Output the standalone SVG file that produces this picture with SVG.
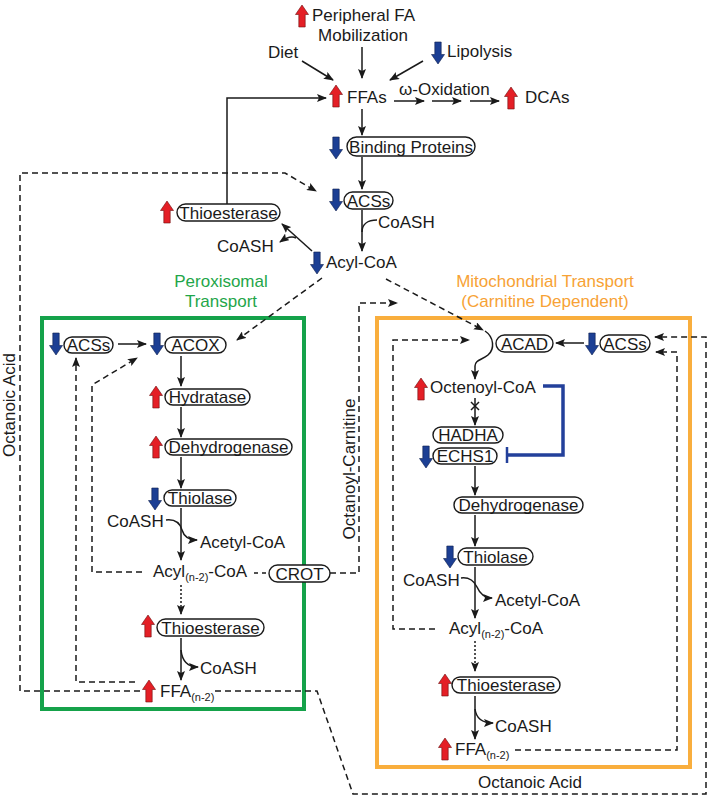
<svg xmlns="http://www.w3.org/2000/svg" xmlns:xlink="http://www.w3.org/1999/xlink" width="708" height="797" viewBox="0 0 708 797">
<style>
.t{font-family:"Liberation Sans",Arial,sans-serif;font-size:17px;fill:#1a1a1a}
.m{text-anchor:middle}
.b{fill:#fff;stroke:#1a1a1a;stroke-width:1.4}
.s{fill:none;stroke:#1a1a1a;stroke-width:1.5}
.d{fill:none;stroke:#1a1a1a;stroke-width:1.5;stroke-dasharray:6,4}
.o{fill:none;stroke:#1a1a1a;stroke-width:1.5;stroke-dasharray:2,2}
.sub{font-size:11px}
</style>
<defs>
<marker id="ah" viewBox="0 0 10 8" refX="9" refY="4" markerWidth="10" markerHeight="8" orient="auto" markerUnits="userSpaceOnUse"><path d="M0,0 L10,4 L0,8 L2,4 Z" fill="#1a1a1a"/></marker>
<path id="up" d="M0,0 L6.5,9.5 L3.2,9.5 L3.2,22 L-3.2,22 L-3.2,9.5 L-6.5,9.5 Z" fill="#E41F26" stroke="#6b0d0d" stroke-width="0.6"/>
<path id="dn" d="M-3.2,0 L3.2,0 L3.2,12.5 L6.5,12.5 L0,22 L-6.5,12.5 L-3.2,12.5 Z" fill="#1C3F94" stroke="#0d1f4d" stroke-width="0.6"/>
</defs>

<!-- compartments -->
<g id="peroxisome">
<rect x="42" y="318" width="262" height="391" fill="none" stroke="#15A24A" stroke-width="4"/>
<text class="t m" x="221" y="287" style="fill:#1FA64A">Peroxisomal</text>
<text class="t m" x="221" y="307" style="fill:#1FA64A">Transport</text>
</g>
<g id="mitochondrion">
<rect x="377" y="318" width="313" height="449" fill="none" stroke="#F9AE3D" stroke-width="4"/>
<text class="t m" x="545" y="287" style="fill:#F7A235">Mitochondrial Transport</text>
<text class="t m" x="545" y="307" style="fill:#F7A235">(Carnitine Dependent)</text>
</g>

<!-- connectors -->
<g id="connectors">
<line class="s" x1="302" y1="61" x2="333" y2="80" marker-end="url(#ah)"/>
<line class="s" x1="362" y1="47" x2="362" y2="78" marker-end="url(#ah)"/>
<line class="s" x1="423" y1="61" x2="390" y2="80" marker-end="url(#ah)"/>
<line class="s" x1="394" y1="101" x2="424" y2="101" marker-end="url(#ah)"/>
<line class="s" x1="432" y1="101" x2="461" y2="101" marker-end="url(#ah)"/>
<line class="s" x1="470" y1="101" x2="499" y2="101" marker-end="url(#ah)"/>
<path class="s" d="M227,204 L227,98 L326,98" marker-end="url(#ah)"/>
<line class="s" x1="362" y1="109" x2="362" y2="135" marker-end="url(#ah)"/>
<line class="s" x1="362" y1="157" x2="362" y2="189" marker-end="url(#ah)"/>
<line class="s" x1="362" y1="210" x2="362" y2="251" marker-end="url(#ah)"/>
<path class="s" d="M377,220 C368,220 362,224 362,232"/>
<line class="s" x1="312" y1="251" x2="282" y2="224" marker-end="url(#ah)"/>
<path class="s" d="M296,238 Q290,235 280,242" marker-end="url(#ah)"/>
<path class="d" d="M140,691 L20,691 L20,173 L285,173 L316,191" marker-end="url(#ah)"/>
<path class="d" d="M215,691 L317,691 L353,794 L706,794 L706,337 L655,337" marker-end="url(#ah)"/>
<line class="d" x1="322" y1="278" x2="237" y2="340" marker-end="url(#ah)"/>
<line class="d" x1="386" y1="279" x2="483" y2="330" marker-end="url(#ah)"/>
<!-- peroxisome -->
<line class="s" x1="118" y1="344" x2="146" y2="344" marker-end="url(#ah)"/>
<line class="s" x1="181" y1="356" x2="181" y2="386" marker-end="url(#ah)"/>
<line class="s" x1="181" y1="407" x2="181" y2="437" marker-end="url(#ah)"/>
<line class="s" x1="181" y1="457" x2="181" y2="488" marker-end="url(#ah)"/>
<line class="s" x1="181" y1="508" x2="181" y2="560" marker-end="url(#ah)"/>
<path class="s" d="M166,520 C175,519 180,523 182,530 C184,537 189,540 197,540" marker-end="url(#ah)"/>
<line class="d" x1="254" y1="573" x2="269" y2="573" style="stroke-dasharray:4,4"/>
<line class="o" x1="181" y1="585" x2="181" y2="614" marker-end="url(#ah)"/>
<line class="s" x1="181" y1="638" x2="181" y2="680" marker-end="url(#ah)"/>
<path class="s" d="M181,650 C182,660 187,667 198,667" marker-end="url(#ah)"/>
<path class="d" d="M135,682 L76,682 L76,358" marker-end="url(#ah)"/>
<path class="d" d="M142,572 L92,572 L92,385 L137,358" marker-end="url(#ah)"/>
<path class="d" d="M330,573 L359,573 L359,303 L397,303" marker-end="url(#ah)"/>
<!-- mitochondrion -->
<line class="s" x1="584" y1="343" x2="556" y2="343" marker-end="url(#ah)"/>
<path class="d" d="M435,629 L393,629 L393,340 L469,340" marker-end="url(#ah)"/>
<path class="s" d="M485,331 C494,337 495,349 488,355 C482,360 475,360 475,366 L475,379" marker-end="url(#ah)"/>
<line class="s" x1="475" y1="398" x2="475" y2="425" marker-end="url(#ah)"/>
<path class="s" d="M471,402 L479,410 M479,402 L471,410"/>
<path d="M543,386 L563,386 L563,455 L508,455" fill="none" stroke="#23409B" stroke-width="3.5"/>
<line x1="507" y1="447" x2="507" y2="463" stroke="#23409B" stroke-width="2.5"/>
<line class="s" x1="475" y1="466" x2="475" y2="495" marker-end="url(#ah)"/>
<line class="s" x1="475" y1="515" x2="475" y2="546" marker-end="url(#ah)"/>
<line class="s" x1="475" y1="567" x2="475" y2="618" marker-end="url(#ah)"/>
<path class="s" d="M461,578 C470,577 474,581 477,587 C480,594 484,598 492,598" marker-end="url(#ah)"/>
<line class="o" x1="475" y1="641" x2="475" y2="671" marker-end="url(#ah)"/>
<line class="s" x1="475" y1="696" x2="475" y2="739" marker-end="url(#ah)"/>
<path class="s" d="M475,709 C476,717 481,723 493,723" marker-end="url(#ah)"/>
<path class="d" d="M515,750 L677,750 L677,352 L656,352" marker-end="url(#ah)"/>
</g>

<!-- top nodes -->
<g id="n-pfm"><use xlink:href="#up" x="302" y="5"/><text class="t" x="312" y="21">Peripheral FA</text><text class="t m" x="363" y="41">Mobilization</text></g>
<g id="n-diet"><text class="t" x="268" y="58">Diet</text></g>
<g id="n-lipolysis"><use xlink:href="#dn" x="438" y="42"/><text class="t" x="447" y="57">Lipolysis</text></g>
<g id="n-ffas"><use xlink:href="#up" x="336" y="85"/><text class="t" x="347" y="103">FFAs</text></g>
<g id="n-omega"><text class="t" x="399" y="95">ω-Oxidation</text></g>
<g id="n-dcas"><use xlink:href="#up" x="511" y="87"/><text class="t" x="525" y="103">DCAs</text></g>
<g id="n-bp"><use xlink:href="#dn" x="336" y="137"/><rect class="b" x="347" y="137" width="128" height="19" rx="9.5"/><text class="t m" x="411" y="152.5">Binding Proteins</text></g>
<g id="n-acs"><use xlink:href="#dn" x="336" y="189"/><rect class="b" x="344" y="192" width="49" height="17" rx="8.5"/><text class="t m" x="368.5" y="206.5">ACSs</text></g>
<g id="n-coash1"><text class="t" x="378" y="228">CoASH</text></g>
<g id="n-acylcoa"><use xlink:href="#dn" x="317" y="252"/><text class="t" x="326" y="268">Acyl-CoA</text></g>
<g id="n-thio"><use xlink:href="#up" x="167" y="201"/><rect class="b" x="177" y="204" width="103" height="17" rx="8.5"/><text class="t m" x="228.5" y="218.5">Thioesterase</text></g>
<g id="n-coash2"><text class="t" x="217" y="252">CoASH</text></g>

<!-- peroxisomal nodes -->
<g id="p-acs"><use xlink:href="#dn" x="56" y="333"/><rect class="b" x="64" y="337" width="49" height="16" rx="8"/><text class="t m" x="88.5" y="351">ACSs</text></g>
<g id="p-acox"><use xlink:href="#dn" x="157" y="333"/><rect class="b" x="165" y="337" width="61" height="16" rx="8"/><text class="t m" x="195.5" y="351">ACOX</text></g>
<g id="p-hyd"><use xlink:href="#up" x="156" y="386"/><rect class="b" x="165" y="389" width="85" height="16" rx="8"/><text class="t m" x="207.5" y="403">Hydratase</text></g>
<g id="p-dh"><use xlink:href="#up" x="156" y="436"/><rect class="b" x="165" y="439" width="127" height="16" rx="8"/><text class="t m" x="228.5" y="453">Dehydrogenase</text></g>
<g id="p-thiol"><use xlink:href="#dn" x="155" y="488"/><rect class="b" x="164" y="490" width="72" height="16" rx="8"/><text class="t m" x="200" y="504">Thiolase</text></g>
<g id="p-coash"><text class="t" x="107" y="527">CoASH</text></g>
<g id="p-acetyl"><text class="t" x="200" y="548">Acetyl-CoA</text></g>
<g id="p-acyln2"><text class="t" x="153" y="577">Acyl<tspan class="sub" dy="4">(n-2)</tspan><tspan dy="-4">-CoA</tspan></text></g>
<g id="p-crot"><rect class="b" x="269" y="565" width="61" height="17" rx="8.5"/><text class="t m" x="299.5" y="579.5">CROT</text></g>
<g id="p-thio"><use xlink:href="#up" x="148" y="615"/><rect class="b" x="157" y="619" width="107" height="17" rx="8.5"/><text class="t m" x="210.5" y="633.5">Thioesterase</text></g>
<g id="p-coash2"><text class="t" x="200" y="674">CoASH</text></g>
<g id="p-ffa"><use xlink:href="#up" x="149" y="680"/><text class="t" x="160" y="697">FFA<tspan class="sub" dy="4">(n-2)</tspan></text></g>

<!-- mitochondrial nodes -->
<g id="m-acad"><rect class="b" x="496" y="335" width="57" height="17" rx="8.5"/><text class="t m" x="524.5" y="349.5">ACAD</text></g>
<g id="m-acs"><use xlink:href="#dn" x="592" y="333"/><rect class="b" x="600" y="335" width="50" height="17" rx="8.5"/><text class="t m" x="625" y="349.5">ACSs</text></g>
<g id="m-octenoyl"><use xlink:href="#up" x="421" y="378"/><text class="t" x="430" y="393">Octenoyl-CoA</text></g>
<g id="m-hadha"><rect class="b" x="433" y="427" width="70" height="16" rx="8"/><text class="t m" x="468" y="441">HADHA</text></g>
<g id="m-echs1"><use xlink:href="#dn" x="426" y="446"/><rect class="b" x="433" y="448" width="64" height="16" rx="8"/><text class="t m" x="465" y="462">ECHS1</text></g>
<g id="m-dh"><rect class="b" x="454" y="497" width="129" height="16" rx="8"/><text class="t m" x="518.5" y="511">Dehydrogenase</text></g>
<g id="m-thiol"><use xlink:href="#dn" x="450" y="546"/><rect class="b" x="458" y="548" width="75" height="17" rx="8.5"/><text class="t m" x="495.5" y="562.5">Thiolase</text></g>
<g id="m-coash"><text class="t" x="403" y="586">CoASH</text></g>
<g id="m-acetyl"><text class="t" x="495" y="606">Acetyl-CoA</text></g>
<g id="m-acyln2"><text class="t" x="449" y="634">Acyl<tspan class="sub" dy="4">(n-2)</tspan><tspan dy="-4">-CoA</tspan></text></g>
<g id="m-thio"><use xlink:href="#up" x="445" y="674"/><rect class="b" x="452" y="677" width="108" height="16" rx="8"/><text class="t m" x="506" y="691">Thioesterase</text></g>
<g id="m-coash2"><text class="t" x="495" y="732">CoASH</text></g>
<g id="m-ffa"><use xlink:href="#up" x="445" y="738"/><text class="t" x="455" y="755">FFA<tspan class="sub" dy="4">(n-2)</tspan></text></g>

<!-- connector labels -->
<g id="labels">
<text class="t m" transform="translate(15,405) rotate(-90)">Octanoic Acid</text>
<text class="t m" transform="translate(355,469) rotate(-90)">Octanoyl-Carnitine</text>
<text class="t m" x="530" y="788">Octanoic Acid</text>
</g>
</svg>
